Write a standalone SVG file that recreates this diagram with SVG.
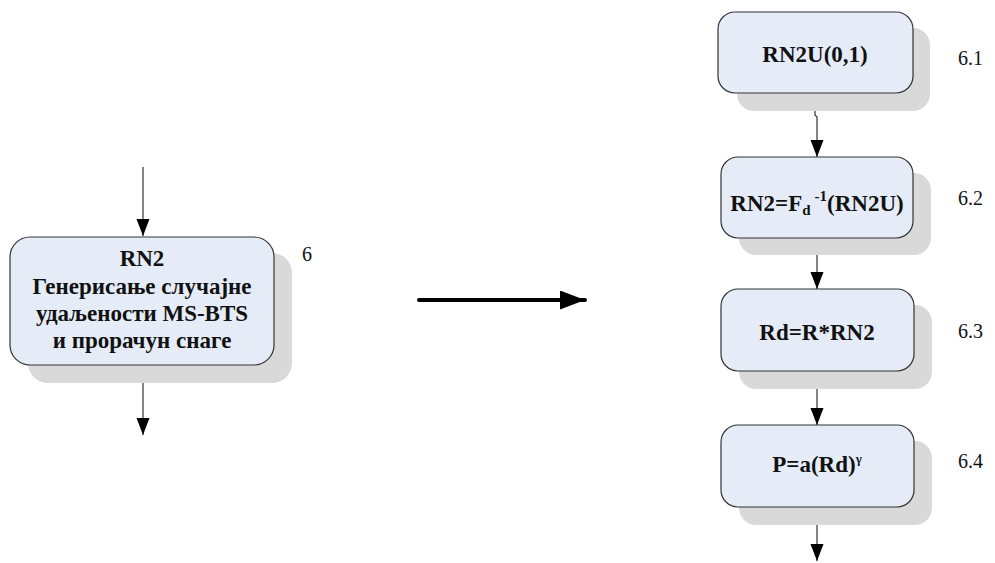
<svg xmlns="http://www.w3.org/2000/svg" width="995" height="563" viewBox="0 0 995 563">
<defs>
<style>
.nodebox{fill:#E6ECF7;stroke:#333;stroke-width:1.2}
.nodeshadow{fill:#D9D9D9}
.nodetext{font-family:'Liberation Serif',serif;font-weight:bold;font-size:23px;fill:#111;text-anchor:middle}
.steplabel{font-family:'Liberation Serif',serif;font-size:20px;fill:#111}
.conn{stroke:#333;stroke-width:1.2;fill:none}
</style>
<marker id="ah" markerUnits="userSpaceOnUse" markerWidth="18" markerHeight="14" refX="17" refY="6.5" orient="auto">
<path d="M0,0 L17,6.5 L0,13 z" fill="#000"/>
</marker>
<marker id="bh" markerUnits="userSpaceOnUse" markerWidth="26" markerHeight="20" refX="25" refY="9.5" orient="auto">
<path d="M0,0 L25,9.5 L0,19 z" fill="#000"/>
</marker>
</defs>
<g id="connectors">
<path class="conn" d="M143,167 V236" marker-end="url(#ah)"/>
<path class="conn" d="M143,365 V435" marker-end="url(#ah)"/>
<path class="conn" d="M815,93 V115 L817,117 V157" marker-end="url(#ah)"/>
<path class="conn" d="M817,238 V289" marker-end="url(#ah)"/>
<path class="conn" d="M817,371 V425" marker-end="url(#ah)"/>
<path class="conn" d="M817,507 V561" marker-end="url(#ah)"/>
<path d="M419,300 H585" stroke="#000" stroke-width="4" stroke-linecap="round" marker-end="url(#bh)"/>
</g>
<g id="n6">
<rect class="nodeshadow" x="28" y="253" width="264" height="130" rx="20"/>
<rect class="nodebox" x="10" y="237" width="264" height="128" rx="20"/>
<text class="nodetext" x="142" y="266">RN2</text>
<text class="nodetext" x="142" y="294">Генерисање случајне</text>
<text class="nodetext" x="142" y="321">удаљености MS-BTS</text>
<text class="nodetext" x="142" y="348">и прорачун снаге</text>
<text class="steplabel" x="302" y="261">6</text>
</g>
<g id="n61">
<rect class="nodeshadow" x="737" y="28" width="193" height="83" rx="17"/>
<rect class="nodebox" x="718" y="12" width="195" height="81" rx="17"/>
<text class="nodetext" x="815" y="62">RN2U(0,1)</text>
<text class="steplabel" x="958" y="65">6.1</text>
</g>
<g id="n62">
<rect class="nodeshadow" x="739" y="173" width="192" height="82" rx="17"/>
<rect class="nodebox" x="721" y="157" width="192" height="81" rx="17"/>
<text class="nodetext" x="817" y="211">RN2=F<tspan font-size="15" dy="4">d</tspan><tspan font-size="15" dx="4" dy="-14">-1</tspan><tspan dy="10">(RN2U)</tspan></text>
<text class="steplabel" x="958" y="205">6.2</text>
</g>
<g id="n63">
<rect class="nodeshadow" x="739" y="305" width="193" height="84" rx="17"/>
<rect class="nodebox" x="721" y="289" width="193" height="82" rx="17"/>
<text class="nodetext" x="817" y="340">Rd=R*RN2</text>
<text class="steplabel" x="958" y="338">6.3</text>
</g>
<g id="n64">
<rect class="nodeshadow" x="739" y="441" width="193" height="84" rx="17"/>
<rect class="nodebox" x="721" y="425" width="193" height="82" rx="17"/>
<text class="nodetext" x="817" y="472">P=a(Rd)<tspan font-size="13" dy="-9">γ</tspan></text>
<text class="steplabel" x="958" y="468">6.4</text>
</g>
</svg>
